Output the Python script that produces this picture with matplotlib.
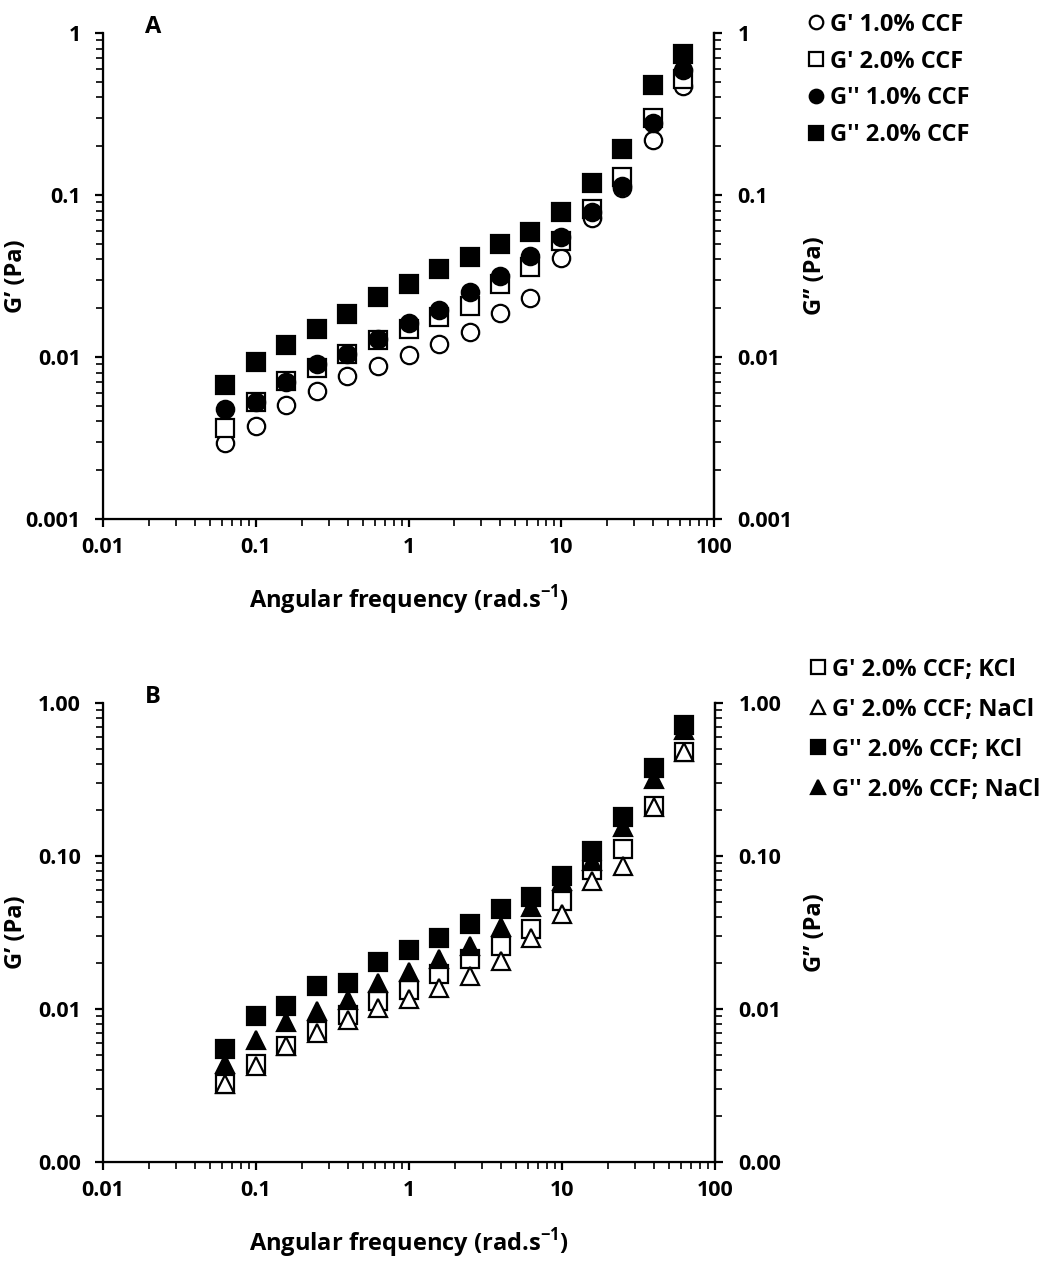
import numpy as np
import matplotlib
matplotlib.use("Agg")
import matplotlib.pyplot as plt
from matplotlib.ticker import FixedLocator, FixedFormatter, LogLocator, NullFormatter

plt.rcParams['font.family'] = ['Open Sans', 'DejaVu Sans']
plt.rcParams['font.weight'] = 'bold'
plt.rcParams['mathtext.fontset'] = 'custom'
plt.rcParams['mathtext.bf'] = 'Open Sans:bold'
plt.rcParams['mathtext.rm'] = 'Open Sans:bold'

# Angular frequency (rad/s)
freq = [0.0628, 0.1, 0.158, 0.251, 0.398, 0.628, 1.0, 1.58, 2.51, 3.98,
        6.28, 10.0, 15.8, 25.1, 39.8, 62.8]

# Panel A: CCF concentration
g1_10 = [0.00293, 0.00376, 0.00502, 0.00618, 0.00758, 0.00882, 0.01035, 0.0121,
         0.0143, 0.0188, 0.0231, 0.0408, 0.072, 0.111, 0.220, 0.469]
g1_20 = [0.00367, 0.0053, 0.00713, 0.0086, 0.0105, 0.0127, 0.0148, 0.0177,
         0.0205, 0.0281, 0.0360, 0.0520, 0.0822, 0.1295, 0.298, 0.520]
g2_10 = [0.00477, 0.0053, 0.00696, 0.0090, 0.0105, 0.0130, 0.0163, 0.0194,
         0.0252, 0.0316, 0.0420, 0.0553, 0.0785, 0.1135, 0.279, 0.594]
g2_20 = [0.00673, 0.00933, 0.0119, 0.0148, 0.01845, 0.0233, 0.0284, 0.0348,
         0.0414, 0.050, 0.0593, 0.0785, 0.118, 0.193, 0.476, 0.742]

# Panel B: salt type at 2.0% CCF
g1_kcl = [0.00322, 0.00434, 0.00574, 0.00716, 0.0091, 0.01125, 0.0133, 0.0169,
          0.0211, 0.0259, 0.0331, 0.0507, 0.0809, 0.111, 0.212, 0.481]
g1_nacl = [0.00325, 0.00423, 0.0057, 0.00698, 0.00845, 0.0101, 0.0117, 0.0138,
           0.0164, 0.0207, 0.0289, 0.0417, 0.0689, 0.0859, 0.210, 0.480]
g2_kcl = [0.00551, 0.00897, 0.0104, 0.01417, 0.0148, 0.0203, 0.0243, 0.0289,
          0.0359, 0.0448, 0.0541, 0.0739, 0.108, 0.181, 0.378, 0.718]
g2_nacl = [0.0044, 0.00625, 0.00824, 0.00973, 0.0114, 0.0147, 0.0175, 0.0211,
           0.0258, 0.0341, 0.0466, 0.069, 0.093, 0.155, 0.321, 0.67]

x_ticks = [0.01, 0.1, 1, 10, 100]
x_labels = ['0.01', '0.1', '1', '10', '100']
y_ticks = [0.001, 0.01, 0.1, 1]
y_labels_a = ['0.001', '0.01', '0.1', '1']
y_labels_b = ['0.00', '0.01', '0.10', '1.00']

W, H = 1048, 1271
fig = plt.figure(figsize=(W / 100, H / 100), dpi=100)

LW = 1.6
MS = 12.5
TICK_FS = 15.5
LABEL_FS = 17
LEG_FS = 17


def style_axes(ax, ylabels):
    ax.set_xscale('log')
    ax.set_yscale('log')
    ax.set_xlim(0.01, 100)
    ax.set_ylim(0.001, 1)
    ax.xaxis.set_major_locator(FixedLocator(x_ticks))
    ax.xaxis.set_major_formatter(FixedFormatter(x_labels))
    ax.xaxis.set_minor_locator(LogLocator(base=10, subs=np.arange(2, 10)))
    ax.xaxis.set_minor_formatter(NullFormatter())
    ax.yaxis.set_major_locator(FixedLocator(y_ticks))
    ax.yaxis.set_major_formatter(FixedFormatter(ylabels))
    ax.yaxis.set_minor_locator(LogLocator(base=10, subs=np.arange(2, 10)))
    ax.yaxis.set_minor_formatter(NullFormatter())
    ax.spines['top'].set_visible(False)
    for s in ('left', 'bottom', 'right'):
        ax.spines[s].set_linewidth(LW)
    ax.tick_params(which='major', direction='out', length=6, width=LW,
                   labelsize=TICK_FS)
    ax.tick_params(which='minor', direction='out', length=5, width=1.2)
    ax.tick_params(axis='y', pad=10)
    ax.tick_params(axis='x', pad=7)
    ax.set_ylabel("G\u2019 (Pa)", fontsize=LABEL_FS, fontweight='bold')
    ax.set_xlabel("Angular frequency (rad.s$^{\\mathbf{-1}}$)", fontsize=LABEL_FS,
                  fontweight='bold', labelpad=18)

    tw = ax.twinx()
    tw.set_yscale('log')
    tw.set_ylim(0.001, 1)
    tw.yaxis.set_major_locator(FixedLocator(y_ticks))
    tw.yaxis.set_major_formatter(FixedFormatter(ylabels))
    tw.yaxis.set_minor_locator(LogLocator(base=10, subs=np.arange(2, 10)))
    tw.yaxis.set_minor_formatter(NullFormatter())
    tw.spines['top'].set_visible(False)
    tw.spines['right'].set_linewidth(LW)
    tw.tick_params(which='major', direction='out', length=6, width=LW,
                   labelsize=TICK_FS, pad=11)
    tw.tick_params(which='minor', direction='out', length=5, width=1.2)
    tw.set_ylabel("G\u2019\u2019 (Pa)", fontsize=LABEL_FS, fontweight='bold')
    return tw


def mark(ax, y, marker, filled, label):
    ax.plot(freq, y, linestyle='none', marker=marker, markersize=MS,
            markerfacecolor='black' if filled else 'white',
            markeredgecolor='black', markeredgewidth=1.6, label=label)


# Panel A
axA = fig.add_axes([103 / W, 1 - 519 / H, 611 / W, 486 / H])
twA = style_axes(axA, y_labels_a)
axA.yaxis.set_label_coords(-(103 - 28) / 611, 0.5)
twA.yaxis.set_label_coords(1 + (803 - 714) / 611, 0.5)
mark(axA, g1_10, 'o', False, "G' 1.0% CCF")
mark(axA, g1_20, 's', False, "G' 2.0% CCF")
mark(axA, g2_10, 'o', True, "G'' 1.0% CCF")
mark(axA, g2_20, 's', True, "G'' 2.0% CCF")
axA.text(153 / W, 1 - 27 / H, 'A', transform=fig.transFigure, fontsize=17,
         fontweight='bold', ha='center', va='center')
fig.legend(*axA.get_legend_handles_labels(), loc='upper left',
           bbox_to_anchor=(789 / W, 1 + 4 / H), frameon=False, fontsize=LEG_FS,
           handletextpad=0.15, handlelength=0.9, labelspacing=0.55,
           markerscale=0.78, borderpad=0.2)

# Panel B
axB = fig.add_axes([103 / W, 1 - 1162 / H, 612 / W, 459 / H])
twB = style_axes(axB, y_labels_b)
axB.yaxis.set_label_coords(-(103 - 28) / 612, 0.5)
twB.yaxis.set_label_coords(1 + (803 - 715) / 612, 0.5)
mark(axB, g1_kcl, 's', False, "G' 2.0% CCF; KCl")
mark(axB, g1_nacl, '^', False, "G' 2.0% CCF; NaCl")
mark(axB, g2_kcl, 's', True, "G'' 2.0% CCF; KCl")
mark(axB, g2_nacl, '^', True, "G'' 2.0% CCF; NaCl")
axB.text(153 / W, 1 - 697 / H, 'B', transform=fig.transFigure, fontsize=17,
         fontweight='bold', ha='center', va='center')
fig.legend(*axB.get_legend_handles_labels(), loc='upper left',
           bbox_to_anchor=(791 / W, 1 - 641 / H), frameon=False, fontsize=LEG_FS,
           handletextpad=0.15, handlelength=0.9, labelspacing=0.68,
           markerscale=0.78, borderpad=0.2)

fig.savefig('out.png', dpi=100)
